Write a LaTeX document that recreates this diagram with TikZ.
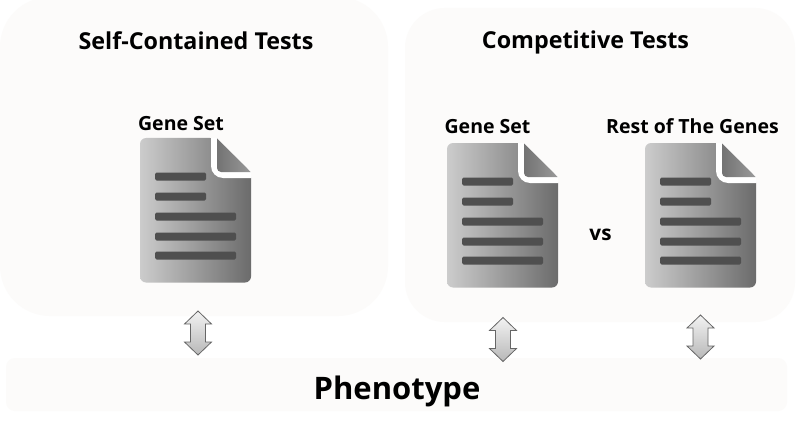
\documentclass[tikz,border=0pt]{standalone}
\usepackage{fontspec}
\setmainfont{Open Sans}
\definecolor{panelfill}{HTML}{FCFBFA}
\definecolor{lineink}{HTML}{4F4F4F}
\tikzset{
  panel/.style={fill=panelfill,draw=none},
  heading/.style={font=\bfseries\fontsize{23.3}{26}\selectfont,inner sep=0pt,text=black,anchor=base},
  sublabel/.style={font=\bfseries\fontsize{19.5}{22}\selectfont,inner sep=0pt,text=black,anchor=base},
  textline/.style={fill=lineink,rounded corners=1.5pt},
  docbody/.style={left color=black!20,right color=black!58,rounded corners=6pt},
  docfold/.style={left color=black!55,right color=black!40},
  updown/.style={draw=black!60,line width=0.8pt,top color=black!5,bottom color=black!28,line join=miter}
}
\newcommand{\docicon}[3]{%
\begin{scope}[shift={(#1,#2)}]
  \node[minimum size=0pt,inner sep=0pt] (#3) at (55,72) {};
  \path[docbody] (0,0) -- (76,0) -- (111,34) -- (111,144.5) -- (0,144.5) -- cycle;
  \fill[white] (71,0) -- (71,28) to[out=-90,in=180] (83,40) -- (111,40) -- (111,34) -- (76,0) -- cycle;
  \path[docfold] (77,0.5) [rounded corners=4pt] -- (77,34) [rounded corners=0pt] -- (110.7,34) -- cycle;
  \foreach \yy/\xe in {38.5/66,58.5/66,78.5/96,98.5/96,117.5/96}
    \path[textline] (15,\yy-4) rectangle (\xe,\yy+4);
\end{scope}}
\newcommand{\dblarrow}[3]{%
\begin{scope}[shift={(#1,#2)}]
  \node[minimum size=0pt,inner sep=0pt] (#3) at (0,0) {};
  \path[updown] (0,-22) -- (13.5,-9) -- (7.5,-9) -- (7.5,9) -- (13.5,9) -- (0,22) -- (-13.5,9) -- (-7.5,9) -- (-7.5,-9) -- (-13.5,-9) -- cycle;
\end{scope}}
\begin{document}
\begin{tikzpicture}[x=1pt,y=-1pt]
\useasboundingbox (0,0) rectangle (800,433);
\fill[white] (0,0) rectangle (800,433);
\path[panel,rounded corners=50pt] (0,-3) rectangle (388,316);
\path[panel,rounded corners=40pt] (405,8) rectangle (795,322);
\path[panel,rounded corners=9pt] (6,358) rectangle (787,411);
\node[heading] (t1) at (196,50) {Self-Contained Tests};
\node[heading] (t2) at (585.5,48.5) {Competitive Tests};
\node[sublabel] (g1) at (181,130.5) {Gene Set};
\node[sublabel] (g2) at (487.5,134) {Gene Set};
\node[sublabel] (g3) at (692.5,134) {Rest of The Genes};
\node[font=\bfseries\fontsize{20.7}{24}\selectfont,inner sep=0pt,anchor=base] (vs) at (600.5,240) {vs};
\docicon{140}{138}{d1}
\docicon{447}{143}{d2}
\docicon{645}{143}{d3}
\dblarrow{198}{333}{a1}
\dblarrow{503}{339.5}{a2}
\dblarrow{700.5}{337}{a3}
\node[font=\bfseries\fontsize{31}{34}\selectfont,inner sep=0pt,anchor=base] (p) at (397,399) {Phenotype};
\end{tikzpicture}
\end{document}
